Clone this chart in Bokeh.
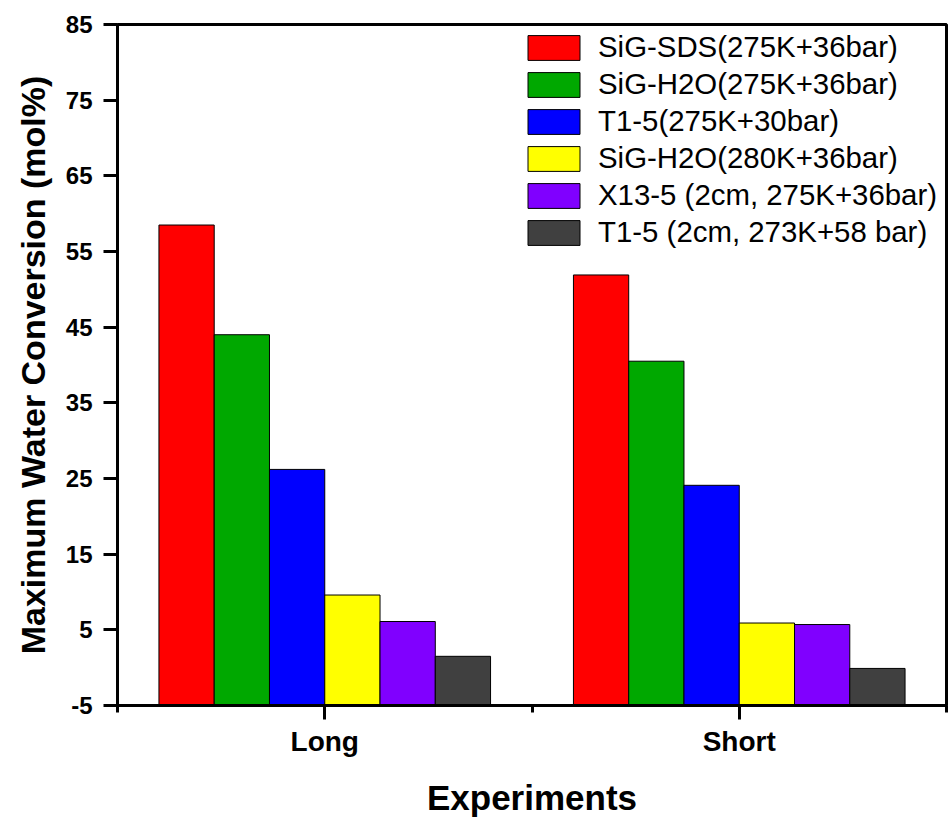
from bokeh.plotting import figure
from bokeh.models import FixedTicker, Range1d, Legend, LegendItem
from bokeh.embed import file_html
from bokeh.resources import INLINE

categories = ["Long", "Short"]
series = [
    "SiG-SDS(275K+36bar)",
    "SiG-H2O(275K+36bar)",
    "T1-5(275K+30bar)",
    "SiG-H2O(280K+36bar)",
    "X13-5 (2cm, 275K+36bar)",
    "T1-5 (2cm, 273K+58 bar)",
]
colors = ["#FF0000", "#00A800", "#0000FF", "#FFFF00", "#8000FF", "#404040"]
values_long = [58.5, 44.0, 26.2, 9.6, 6.1, 1.5]
values_short = [51.9, 40.5, 24.1, 5.9, 5.7, -0.1]
y_ticks = [-5, 5, 15, 25, 35, 45, 55, 65, 75, 85]

Y0, Y1 = -5, 85
FONT = "Liberation Sans"

p = figure(width=948, height=821, output_backend="svg", toolbar_location=None,
           x_range=Range1d(0.5, 2.5), y_range=Range1d(Y0, Y1),
           min_border_left=117, min_border_right=2, min_border_top=24, min_border_bottom=116)

group_width = 0.8
n = len(series)
w = group_width / n
items = []
for j, name in enumerate(series):
    xs = [i + 1 - group_width / 2 + w * (j + 0.5) for i in range(len(categories))]
    tops = [values_long[j], values_short[j]]
    r = p.vbar(x=xs, top=tops, bottom=Y0, width=w, fill_color=colors[j],
               line_color="black", line_width=1)
    items.append(LegendItem(label=name, renderers=[r]))

legend = Legend(items=items, location=(404, 456), margin=0, padding=0,
                glyph_width=65, glyph_height=31, label_height=31, spacing=3,
                label_standoff=12, label_text_font=FONT, label_text_font_size="29.4px",
                label_text_color="black",
                border_line_color=None, background_fill_alpha=0)
p.add_layout(legend)

p.xgrid.visible = False
p.ygrid.visible = False
p.outline_line_color = "black"
p.outline_line_width = 3
p.outline_line_alpha = 1

# x axis
xa = p.xaxis[0]
xa.ticker = FixedTicker(ticks=[1, 2], minor_ticks=[0.5, 1.5, 2.5])
xa.major_label_overrides = {1: categories[0], 2: categories[1]}
xa.axis_label = "Experiments"
xa.axis_label_text_font = FONT
xa.axis_label_text_font_style = "bold"
xa.axis_label_text_font_size = "35px"
xa.axis_label_text_color = "black"
xa.axis_label_standoff = 18
xa.major_label_text_font = FONT
xa.major_label_text_font_style = "bold"
xa.major_label_text_font_size = "28px"
xa.major_label_text_color = "black"
xa.major_label_standoff = 6
xa.axis_line_width = 3
xa.axis_line_color = "black"
xa.major_tick_line_width = 3
xa.major_tick_line_color = "black"
xa.major_tick_out = 14
xa.major_tick_in = 0
xa.minor_tick_line_width = 3
xa.minor_tick_line_color = "black"
xa.minor_tick_out = 7
xa.minor_tick_in = 0

# y axis
ya = p.yaxis[0]
ya.ticker = FixedTicker(ticks=y_ticks, minor_ticks=[])
ya.major_label_overrides = {t: str(t) for t in y_ticks}
ya.axis_label = "Maximum Water Conversion (mol%)"
ya.axis_label_text_font = FONT
ya.axis_label_text_font_style = "bold"
ya.axis_label_text_font_size = "34px"
ya.axis_label_text_color = "black"
ya.axis_label_standoff = 11
ya.major_label_text_font = FONT
ya.major_label_text_font_style = "bold"
ya.major_label_text_font_size = "24px"
ya.major_label_text_color = "black"
ya.major_label_standoff = 11
ya.axis_line_width = 3
ya.axis_line_color = "black"
ya.major_tick_line_width = 3
ya.major_tick_line_color = "black"
ya.major_tick_out = 14
ya.major_tick_in = 0
ya.minor_tick_line_color = None

open("out.html", "w").write(file_html(p, INLINE))
